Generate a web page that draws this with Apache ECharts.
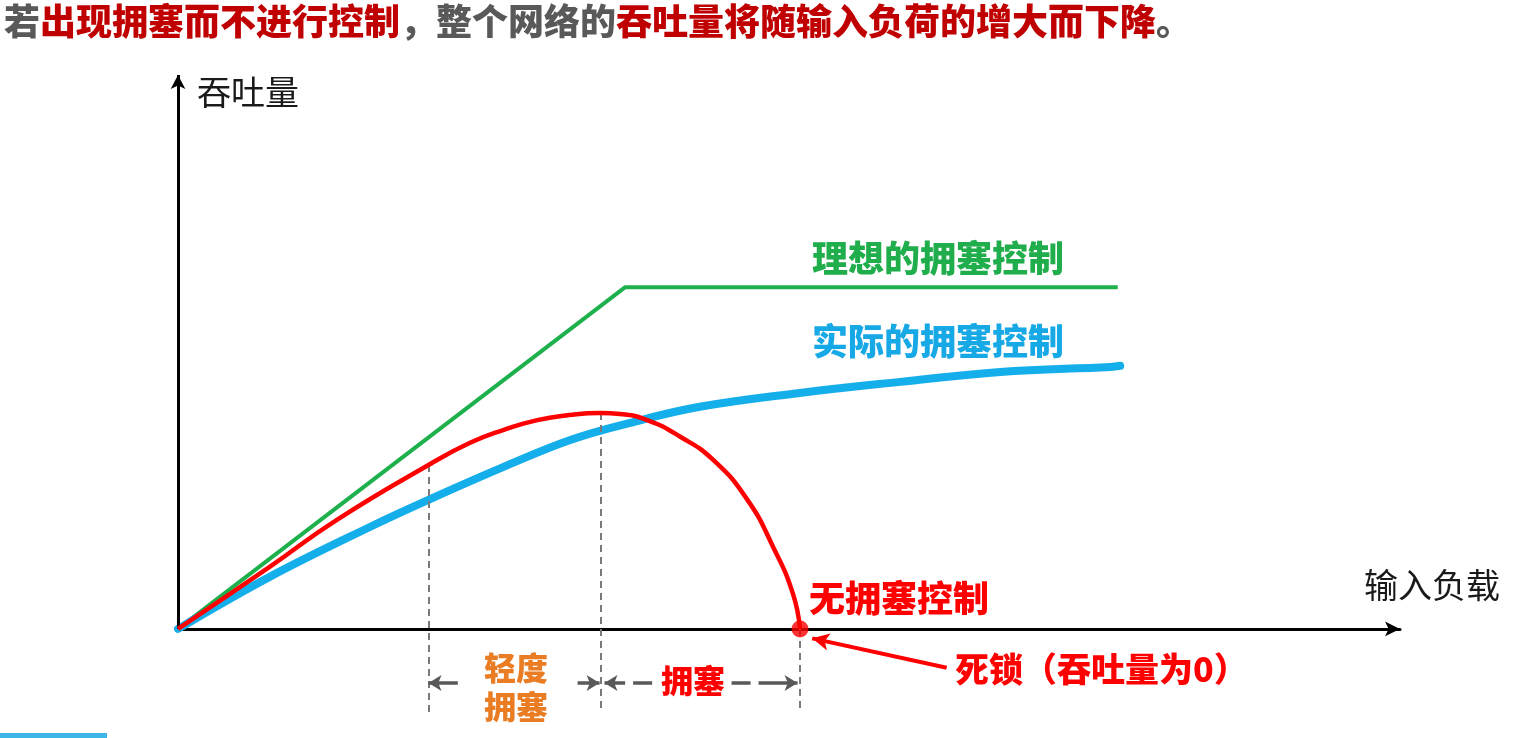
<!DOCTYPE html>
<html><head><meta charset="utf-8">
<script src="https://cdn.jsdelivr.net/npm/echarts@6/dist/echarts.min.js"></script>
<style>html,body{margin:0;padding:0;background:#fff}#c{width:1538px;height:738px}</style>
</head><body><div id="c"></div>
<script>
// ---- data (load on x, throughput on y, arbitrary units) ----
const idealLoad = [0, 36.6, 76.9];
const idealThroughput = [0, 61.7, 61.7];
const actualLoad = [0, 7.5, 15.7, 20.5, 26.6, 32.1, 37.0, 42.7, 50.9, 59.1, 67.3, 76.3, 77.1];
const actualThroughput = [0, 9.4, 18.4, 23.3, 29.2, 34.1, 37.2, 40.1, 42.6, 44.6, 46.4, 47.3, 47.5];
const noCtrlLoad = [0, 7.5, 13.0, 20.5, 23.9, 26.6, 29.4, 32.0, 34.5, 36.2, 38.4, 41.1, 43.8, 46.6, 48.7, 50.3, 50.9];
const noCtrlThroughput = [0, 11.2, 19.7, 29.6, 33.6, 35.9, 37.7, 38.6, 39.0, 38.8, 37.7, 34.7, 30.5, 23.3, 14.8, 6.5, 0];
const regionBounds = [20.5, 34.6, 50.9];   // 轻度拥塞起点, 拥塞起点, 死锁点
const boundTops = [29.6, 39.0, 0];
const deadlock = [50.9, 0];

const pairs = (xs, ys) => xs.map((x, i) => [x, ys[i]]);
const Y_MIN = -15, Y_MAX = 100, ARROW_Y = -9.75;

const CJK = '"Noto Sans CJK SC", "Noto Sans", sans-serif';
const ml = (data, extra) => Object.assign({
  silent: true, symbol: ['none', 'arrow'], symbolSize: [11, 14],
  label: {show: false}, emphasis: {disabled: true}, animation: false, data: data
}, extra);

const chart = echarts.init(document.getElementById('c'));
const option = {
  animation: false,
  grid: {left: 178, right: 138, top: 75, bottom: 26, containLabel: false},
  xAxis: {
    type: 'value', min: 0, max: 100,
    axisLine: {show: true, onZero: true, symbol: ['none', 'arrow'], symbolSize: [11, 15],
      lineStyle: {color: '#000', width: 3}},
    axisTick: {show: false}, axisLabel: {show: false}, splitLine: {show: false}
  },
  yAxis: {
    type: 'value', min: Y_MIN, max: Y_MAX,
    axisLine: {show: false}, axisTick: {show: false}, axisLabel: {show: false}, splitLine: {show: false}
  },
  series: [
    { // y axis with arrow
      type: 'line', data: [], silent: true,
      markLine: ml([[{coord: [0, 0]}, {coord: [0, Y_MAX]}]],
        {lineStyle: {color: '#000', width: 3, type: 'solid'}})
    },
    { // vertical dashed boundaries
      type: 'line', data: [], silent: true,
      markLine: ml(regionBounds.map((b, i) => [{coord: [b, boundTops[i]]}, {coord: [b, Y_MIN]}]),
        {symbol: ['none', 'none'], lineStyle: {color: '#7a7a7a', width: 2, type: [7, 5]}})
    },
    { // gray range arrows (solid parts)
      type: 'line', data: [], silent: true,
      markLine: ml([
        [{coord: [regionBounds[0] + 2.4, ARROW_Y]}, {coord: [regionBounds[0], ARROW_Y]}],
        [{coord: [regionBounds[1] - 1.9, ARROW_Y]}, {coord: [regionBounds[1] - 0.1, ARROW_Y]}]
      ], {symbolSize: [12, 13], lineStyle: {color: '#595959', width: 3.5, type: 'solid'}})
    },
    { // gray dashed congestion arrows
      type: 'line', data: [], silent: true,
      markLine: ml([
        [{coord: [regionBounds[1] + 4.2, ARROW_Y]}, {coord: [regionBounds[1] + 0.3, ARROW_Y]}],
        [{coord: [regionBounds[2] - 5.6, ARROW_Y]}, {coord: [regionBounds[2] - 0.2, ARROW_Y]}]
      ], {symbolSize: [12, 13], lineStyle: {color: '#595959', width: 3.5, type: [19, 8, 42, 8]}})
    },
    {
      name: '理想的拥塞控制', type: 'line', data: pairs(idealLoad, idealThroughput),
      symbol: 'none', silent: true, lineStyle: {color: '#1eb04c', width: 4}, z: 3
    },
    {
      name: '实际的拥塞控制', type: 'line', data: pairs(actualLoad, actualThroughput),
      symbol: 'none', smooth: 0.4, silent: true, lineStyle: {color: '#14aeea', width: 8, cap: 'round'}, z: 4
    },
    {
      name: '无拥塞控制', type: 'line', data: pairs(noCtrlLoad, noCtrlThroughput),
      symbol: 'none', smooth: 0.5, silent: true,
      lineStyle: {color: '#ff0000', width: 4.5}, z: 5,
      markLine: ml([[{coord: [62.9, -7.0]}, {coord: [51.9, -1.7]}]],
        {symbolSize: [13, 17], lineStyle: {color: '#ff0000', width: 4, type: 'solid'}})
    },
    {
      type: 'scatter', data: [deadlock], symbol: 'circle', symbolSize: 17, silent: true,
      itemStyle: {color: '#ff0000'}, z: 6
    }
  ],
  graphic: [
    {type: 'text', x: 4, y: 21, style: {
      text: '{g|若}{r|出现拥塞而不进行控制}{g|，整个网络的}{r|吞吐量将随输入负荷的增大而下降}{g|。}',
      textVerticalAlign: 'middle', font: '900 36px ' + CJK,
      rich: {
        g: {fill: '#595959', fontSize: 36, fontWeight: 900, fontFamily: CJK},
        r: {fill: '#c00000', fontSize: 36, fontWeight: 900, fontFamily: CJK}
      }}},
    {type: 'text', x: 197, y: 92, style: {text: '吞吐量', fill: '#1a1a1a', font: '34px ' + CJK, textVerticalAlign: 'middle'}},
    {type: 'text', x: 1364, y: 585, style: {text: '输入负载', fill: '#1a1a1a', font: '34px ' + CJK, textVerticalAlign: 'middle'}},
    {type: 'text', x: 812, y: 258, style: {text: '理想的拥塞控制', fill: '#1fae4b', font: '900 36px ' + CJK, textVerticalAlign: 'middle'}},
    {type: 'text', x: 812, y: 341, style: {text: '实际的拥塞控制', fill: '#17a8e6', font: '900 36px ' + CJK, textVerticalAlign: 'middle'}},
    {type: 'text', x: 809, y: 598, style: {text: '无拥塞控制', fill: '#ff0000', font: '900 36px ' + CJK, textVerticalAlign: 'middle'}},
    {type: 'text', x: 955, y: 669, style: {text: '死锁（吞吐量为0）', fill: '#ff0000', font: '900 34px ' + CJK, textVerticalAlign: 'middle'}},
    {type: 'text', x: 516, y: 687, style: {text: '轻度\n拥塞', fill: '#ea7d24', font: '900 32px ' + CJK, lineHeight: 39, textAlign: 'center', textVerticalAlign: 'middle'}},
    {type: 'text', x: 693, y: 681, style: {text: '拥塞', fill: '#ff0000', font: '900 32px ' + CJK, textAlign: 'center', textVerticalAlign: 'middle'}},
    {type: 'rect', shape: {x: 0, y: 733, width: 107, height: 5}, style: {fill: '#3db5e6'}}
  ]
};
chart.setOption(option);
</script>
</body></html>
